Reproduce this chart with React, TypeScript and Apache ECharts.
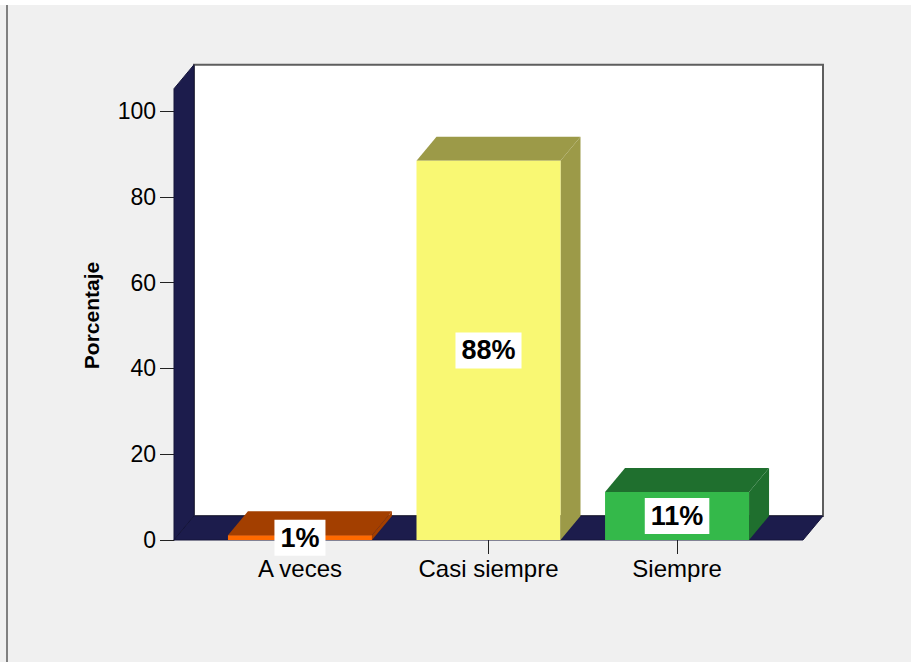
import React, { useEffect, useRef } from "react";
import * as echarts from "echarts";

// ---- data ----
const categories = ["A veces", "Casi siempre", "Siempre"];
const percentages = [1.1, 88.4, 11.2];
const yTicks = [0, 20, 40, 60, 80, 100];
const yTitle = "Porcentaje";

// ---- styles ----
const FONT = "'Liberation Sans', Arial, Helvetica, sans-serif";
const BAR_COLORS = [
  { front: "#ff6a00", top: "#a33f00", side: "#a33f00" },
  { front: "#f9f873", top: "#9c9a48", side: "#9c9a48" },
  { front: "#34b94a", top: "#1f6f2e", side: "#1f6f2e" },
];
const WALL = "#1c1c4c";
const DX = 20;
const DY = -24;
const BAR_W = 144;
const WALL_TOP = 105.2;

export default function App() {
  const ref = useRef<HTMLDivElement>(null);

  useEffect(() => {
    if (!ref.current) return;
    const chart = echarts.init(ref.current, undefined, { renderer: "svg" });
    const idx = categories.map((_, i) => i);

    const option: any = {
      animation: false,
      backgroundColor: "#f0f0f0",
      graphic: [
        { type: "rect", left: 0, top: 0, shape: { width: 911, height: 5 }, style: { fill: "#ffffff" }, z: 100 },
        { type: "line", shape: { x1: 7, y1: 5, x2: 7, y2: 662 }, style: { stroke: "#808080", lineWidth: 2 }, z: 100 },
      ],
      grid: { left: 174, right: 108, top: 111, bottom: 122, containLabel: false },
      xAxis: {
        type: "value",
        min: -0.668,
        max: 2.668,
        splitLine: { show: false },
        axisLine: { show: false, onZero: false },
        axisTick: { show: true, customValues: idx, length: 14, lineStyle: { color: "#222", width: 1 } },
        axisLabel: {
          customValues: idx,
          formatter: (v: number) => categories[Math.round(v)] ?? "",
          margin: 16,
          fontSize: 24,
          fontFamily: FONT,
          color: "#000",
        },
      },
      yAxis: {
        type: "value",
        min: 0,
        max: 100,
        interval: 20,
        name: yTitle,
        nameLocation: "middle",
        nameRotate: 90,
        nameGap: 72,
        nameTextStyle: { fontSize: 21, fontWeight: "bold", fontFamily: FONT, color: "#000", padding: [0, 0, 0, 20] },
        splitLine: { show: false },
        axisLine: { show: true, onZero: false, lineStyle: { color: WALL, width: 1 } },
        axisTick: { show: true, customValues: yTicks, length: 14, lineStyle: { color: "#222", width: 1 } },
        axisLabel: {
          margin: 18,
          fontSize: 23,
          fontFamily: FONT,
          color: "#000",
          customValues: yTicks,
        },
      },
      series: [
        {
          type: "custom",
          name: "walls",
          clip: false,
          silent: true,
          z: 1,
          data: [[0, 0]],
          renderItem: (params: any, api: any) => {
            const cs = params.coordSys;
            const L = cs.x;
            const R = cs.x + cs.width;
            const B = api.coord([0, 0])[1];
            const T = api.coord([0, WALL_TOP])[1];
            return {
              type: "group",
              children: [
                {
                  type: "rect",
                  shape: { x: L + DX, y: T + DY, width: R - L, height: B - T },
                  style: { fill: "#ffffff", stroke: "#5e5e5e", lineWidth: 2 },
                },
                {
                  type: "polygon",
                  shape: { points: [[L, B], [L, T], [L + DX, T + DY], [L + DX, B + DY]] },
                  style: { fill: WALL, stroke: "#14143a", lineWidth: 1 },
                },
                {
                  type: "polygon",
                  shape: { points: [[L, B], [R, B], [R + DX, B + DY], [L + DX, B + DY]] },
                  style: { fill: WALL, stroke: "#14143a", lineWidth: 1 },
                },
              ],
            };
          },
        },
        {
          type: "custom",
          name: "Porcentaje",
          clip: false,
          z: 2,
          data: percentages.map((v, i) => [i, v]),
          renderItem: (params: any, api: any) => {
            const i = api.value(0);
            const v = api.value(1);
            const [cx, top] = api.coord([i, v]);
            const base = api.coord([i, 0])[1];
            const hw = BAR_W / 2;
            const c = BAR_COLORS[params.dataIndex % BAR_COLORS.length];
            return {
              type: "group",
              children: [
                {
                  type: "polygon",
                  shape: { points: [[cx + hw, top], [cx + hw + DX, top + DY], [cx + hw + DX, base + DY], [cx + hw, base]] },
                  style: { fill: c.side },
                },
                {
                  type: "polygon",
                  shape: { points: [[cx - hw, top], [cx + hw, top], [cx + hw + DX, top + DY], [cx - hw + DX, top + DY]] },
                  style: { fill: c.top },
                },
                {
                  type: "rect",
                  shape: { x: cx - hw, y: top, width: BAR_W, height: base - top },
                  style: { fill: c.front },
                },
                {
                  type: "text",
                  x: cx,
                  y: (top + base) / 2,
                  z2: 10,
                  style: {
                    text: Math.round(v) + "%",
                    align: "center",
                    verticalAlign: "middle",
                    font: "bold 27px " + FONT,
                    fill: "#000",
                    backgroundColor: "#ffffff",
                    padding: [5, 6, 4, 6],
                  },
                },
              ],
            };
          },
        },
      ],
    };

    chart.setOption(option);
    return () => chart.dispose();
  }, []);

  return (
    <div
      ref={ref}
      style={{ position: "fixed", left: 0, top: 0, width: 911, height: 662 }}
    />
  );
}
